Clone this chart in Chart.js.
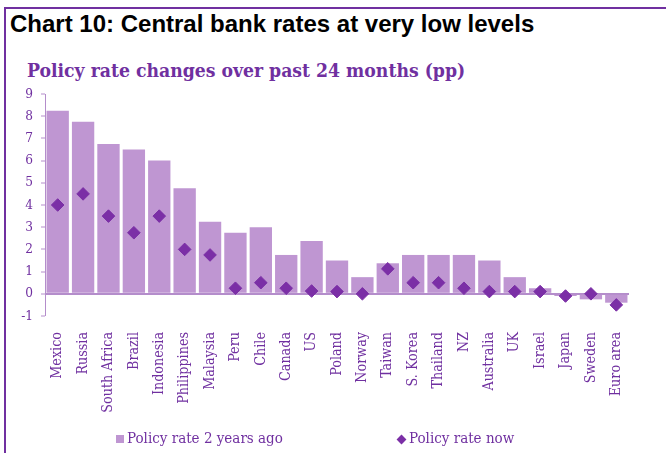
<!DOCTYPE html>
<html>
<head>
<meta charset="utf-8">
<script src="https://cdn.jsdelivr.net/npm/chart.js@4.4.1/dist/chart.umd.min.js"></script>
<style>
  html, body { margin: 0; padding: 0; background: #fff; }
  body { width: 666px; height: 453px; position: relative; overflow: hidden; }
  #frame { position: absolute; left: 4px; top: 7px; width: 700px; height: 500px;
           border-left: 2px solid #7030A0; border-top: 2px solid #7030A0; }
  #title { position: absolute; left: 10px; top: 10px; font: bold 24px "Liberation Sans", Arial, sans-serif;
           line-height: 28px; color: #000; white-space: nowrap; }
  #subtitle { position: absolute; left: 27px; top: 59px; font: bold 19.2px "DejaVu Serif Condensed", "DejaVu Serif", serif;
              line-height: 24px; color: #7030A0; white-space: nowrap; }
  #wrap { position: absolute; left: 0; top: 0; width: 666px; height: 453px; }
  #legend { position: absolute; top: 428px; left: 0; width: 666px; height: 22px;
            font: 15px "DejaVu Serif Condensed", "DejaVu Serif", serif; color: #7030A0; }
  .item { position: absolute; top: 0; white-space: nowrap; line-height: 20px; }
  .sw { display: inline-block; vertical-align: middle; margin-right: 3px; }
</style>
</head>
<body>
<div id="frame"></div>
<div id="title">Chart 10: Central bank rates at very low levels</div>
<div id="subtitle">Policy rate changes over past 24 months (pp)</div>
<div id="wrap"><canvas id="c" width="666" height="453"></canvas></div>
<div id="legend"></div>
<script>
// Countries, ordered by the policy rate two years ago
const countries = ['Mexico', 'Russia', 'South Africa', 'Brazil', 'Indonesia', 'Philippines', 'Malaysia',
  'Peru', 'Chile', 'Canada', 'US', 'Poland', 'Norway', 'Taiwan', 'S. Korea', 'Thailand', 'NZ',
  'Australia', 'UK', 'Israel', 'Japan', 'Sweden', 'Euro area'];

// Policy rate 2 years ago (%)
const rateTwoYearsAgo = [8.25, 7.75, 6.75, 6.5, 6.0, 4.75, 3.25, 2.75, 3.0, 1.75, 2.375, 1.5, 0.75,
  1.375, 1.75, 1.75, 1.75, 1.5, 0.75, 0.25, -0.1, -0.25, -0.4];

// Policy rate now (%)
const rateNow = [4.0, 4.5, 3.5, 2.75, 3.5, 2.0, 1.75, 0.25, 0.5, 0.25, 0.125, 0.1, 0.0,
  1.125, 0.5, 0.5, 0.25, 0.1, 0.1, 0.1, -0.1, 0.0, -0.5];

// Y axis ticks
const yTicks = [-1, 0, 1, 2, 3, 4, 5, 6, 7, 8, 9];

const PURPLE = '#7030A0';
const BAR = '#BF96D2';
const DIAMOND = '#7B2FA6';
const AXIS = '#B48DCB';
const SERIF = "'DejaVu Serif Condensed', 'DejaVu Serif', serif";

const chart = new Chart(document.getElementById('c'), {
  data: {
    labels: countries,
    datasets: [
      {
        type: 'scatter',
        label: 'Policy rate now',
        data: rateNow.map((v, i) => ({ x: countries[i], y: v })),
        backgroundColor: DIAMOND,
        borderColor: DIAMOND,
        borderWidth: 1,
        pointStyle: 'rectRot',
        pointRadius: 6.3,
        order: 0
      },
      {
        type: 'bar',
        label: 'Policy rate 2 years ago',
        data: rateTwoYearsAgo,
        backgroundColor: BAR,
        borderWidth: 0,
        categoryPercentage: 1,
        barPercentage: 0.88,
        order: 1
      }
    ]
  },
  options: {
    responsive: false,
    animation: false,
    layout: { padding: { left: 0, right: 37, top: 94, bottom: 0 } },
    plugins: { legend: { display: false }, title: { display: false }, tooltip: { enabled: false } },
    scales: {
      x: {
        type: 'category',
        labels: countries,
        offset: true,
        grid: { display: false },
        border: { display: false },
        ticks: {
          color: PURPLE, font: { family: SERIF, size: 14.2 }, padding: 8,
          maxRotation: 90, minRotation: 90, autoSkip: false
        },
        afterFit: s => { s.height = 137; }
      },
      y: {
        min: -1, max: 9,
        afterBuildTicks: s => { s.ticks = yTicks.map(v => ({ value: v })); },
        border: { display: true, color: AXIS, width: 1 },
        grid: {
          drawOnChartArea: true,
          color: c => (c.tick && c.tick.value === 0) ? AXIS : 'rgba(0,0,0,0)',
          lineWidth: c => (c.tick && c.tick.value === 0) ? 2 : 0,
          tickColor: AXIS, tickLength: 4, tickWidth: 1
        },
        ticks: { color: PURPLE, font: { family: SERIF, size: 13.5 }, padding: 8 },
        afterFit: s => { s.width = 45; }
      }
    }
  }
});

// Legend row under the plot, built from the datasets
const legend = document.getElementById('legend');
const bars = chart.data.datasets[1], pts = chart.data.datasets[0];
legend.innerHTML =
  '<div class="item" style="left:116px"><span class="sw" style="width:8px;height:8px;background:' + bars.backgroundColor + '"></span>' + bars.label + '</div>' +
  '<div class="item" style="left:396px"><span class="sw" style="width:7px;height:7px;background:' + pts.backgroundColor + ';transform:rotate(45deg);margin-left:2px;margin-right:4px"></span>' + pts.label + '</div>';
</script>
</body>
</html>
